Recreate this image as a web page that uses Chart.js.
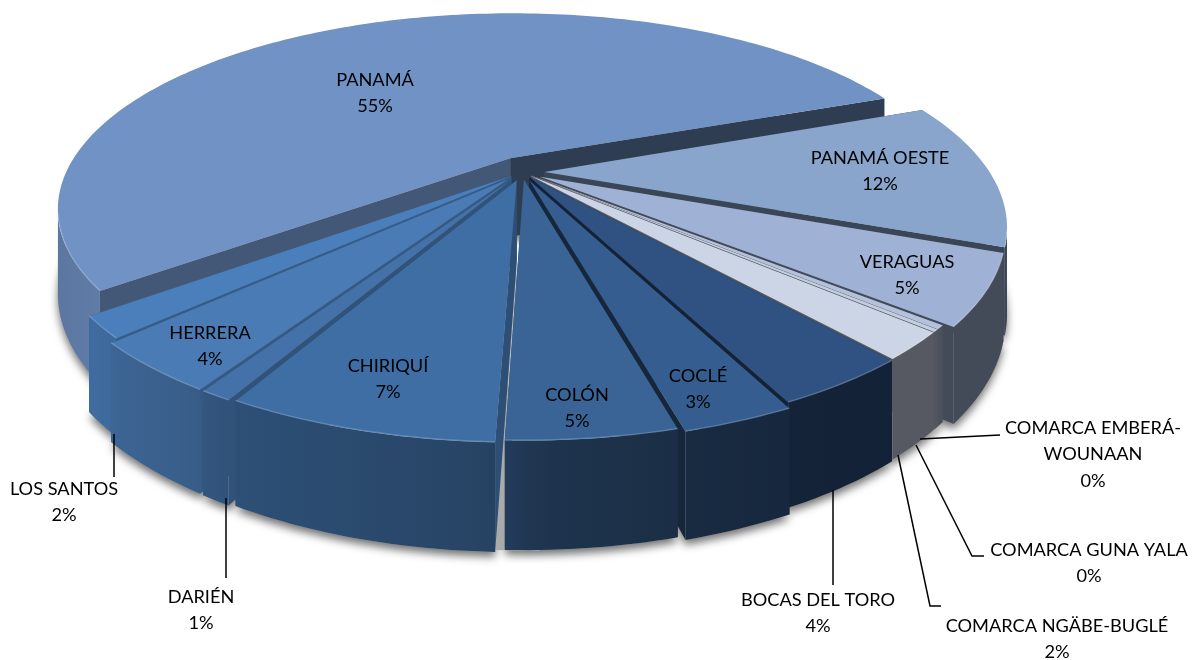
<!DOCTYPE html>
<html><head><meta charset="utf-8">
<style>html,body{margin:0;padding:0;background:#fff}canvas{display:block}</style>
<script src="https://cdn.jsdelivr.net/npm/chart.js@4/dist/chart.umd.min.js"></script>
</head><body><canvas id="c" width="1197" height="660"></canvas>
<script>
const categories=["PANAMÁ","PANAMÁ OESTE","VERAGUAS","COMARCA EMBERÁ-WOUNAAN","COMARCA GUNA YALA","COMARCA NGÄBE-BUGLÉ","BOCAS DEL TORO","COCLÉ","COLÓN","CHIRIQUÍ","DARIÉN","HERRERA","LOS SANTOS"];
const shares=[54.6,11.7,5.4,0.3,0.2,2.1,3.9,3.1,4.6,7.4,0.9,3.9,1.7];
const colors=["#7092c4","#8aa5cc","#9fb2d5","#b4c1da","#c2cde0","#ccd5e6","#2f5282","#355d8f","#3a6496","#3f6ea4","#4472a8","#4a7bb5","#4a7fbc"];
const explode=[27,16,15,9,9,9,10,15,12,14,15,15,10];

const view={cx:522,cy:172,a:445,b:189,k:0.26,H:80,leadNudge:0.015};
const shadeStops=[[60,.42],[150,.42],[165,.46],[178,.52],[183,.62],[208,.72],[213,.76],[231,.85],[260,.8],[300,.8]];
const labelLayout=[
 {lines:["PANAMÁ"],x:375,y:80},{lines:["PANAMÁ OESTE"],x:880,y:158},{lines:["VERAGUAS"],x:907,y:262},
 {lines:["COMARCA EMBERÁ-","WOUNAAN"],x:1093,y:428},{lines:["COMARCA GUNA YALA"],x:1089,y:550},
 {lines:["COMARCA NGÄBE-BUGLÉ"],x:1057,y:626},{lines:["BOCAS DEL TORO"],x:818,y:600},
 {lines:["COCLÉ"],x:698,y:376},{lines:["COLÓN"],x:577,y:395},{lines:["CHIRIQUÍ"],x:388,y:366},
 {lines:["DARIÉN"],x:201,y:597},{lines:["HERRERA"],x:210,y:333},{lines:["LOS SANTOS"],x:64,y:489}];
const leaders=[[[114,434],[114,477]],[[226,498],[226,578]],[[833,490],[833,585]],
 [[898,455],[930,606],[941,606]],[[916,445],[972,556],[984,556]],[[920,439],[1000,435]]];

function shadeAt(t){t=((t%360)+360)%360;
 if(t<=shadeStops[0][0])return shadeStops[0][1];
 for(let i=1;i<shadeStops.length;i++){if(t<=shadeStops[i][0]){const p=shadeStops[i-1],q=shadeStops[i];return p[1]+(q[1]-p[1])*(t-p[0])/(q[0]-p[0]);}}
 return .8;}
function mul(hex,f){const n=parseInt(hex.slice(1),16);return `rgb(${Math.round((n>>16)*f)},${Math.round(((n>>8)&255)*f)},${Math.round((n&255)*f)})`;}
function proj(u,v,h){const w=1-view.k*v;return [view.cx+view.a*u/w,view.cy+(view.b*v+h*view.H)/w];}
function poly(ctx,pts){ctx.beginPath();pts.forEach((p,i)=>i?ctx.lineTo(p[0],p[1]):ctx.moveTo(p[0],p[1]));ctx.closePath();}

const pie3d={id:'pie3d',
 beforeDatasetDraw(chart){
  const ctx=chart.ctx,meta=chart.getDatasetMeta(0);
  const slices=meta.data.map((el,i)=>{
   const mid=(el.startAngle+el.endAngle)/2,off=el.options.offset/el.outerRadius;
   const ou=Math.cos(mid)*off+(i===0?view.leadNudge:0),ov=Math.sin(mid)*off,rim=[],n=Math.max(3,Math.ceil((el.endAngle-el.startAngle)/0.02));
   for(let j=0;j<=n;j++){const a=el.startAngle+(el.endAngle-el.startAngle)*j/n;rim.push({a,u:ou+Math.cos(a),v:ov+Math.sin(a)});}
   return {i,mid,ou,ov,rim,color:el.options.backgroundColor,start:el.startAngle,end:el.endAngle};
  });
  const deg=a=>(a+Math.PI/2)*180/Math.PI;
  const order=slices.slice().sort((p,q)=>(p.i===0?-9:Math.sin(p.mid))-(q.i===0?-9:Math.sin(q.mid)));
  ctx.save();
  // floor shadows
  order.forEach(s=>{
   const pts=[proj(s.ou,s.ov,1)].concat(s.rim.map(r=>proj(r.u,r.v,1)));
   ctx.save();ctx.shadowColor='rgba(0,0,0,.55)';ctx.shadowBlur=9;ctx.shadowOffsetY=5;ctx.fillStyle='#aaaaaa';poly(ctx,pts);ctx.fill();ctx.restore();
  });
  // grey floor seen through the gap in front of COLÓN
  const gap=slices[8].end,d=0.06,fl=[];
  [[.55,-d],[1.04,-d],[1.04,d],[.55,d]].forEach(([r,e])=>fl.push(proj(r*Math.cos(gap+e),r*Math.sin(gap+e),1)));
  ctx.fillStyle='#aaaaaa';poly(ctx,fl);ctx.fill();
  order.forEach(s=>{
   // radial walls
   [[s.rim[0],s.start],[s.rim[s.rim.length-1],s.end]].forEach(([r,a],idx)=>{
    const t=((deg(a)%360)+360)%360;
    let f=t>180?.72:.42; if(s.i===0&&idx===0)f=.6;
    const q=[proj(s.ou,s.ov,0),proj(r.u,r.v,0),proj(r.u,r.v,1),proj(s.ou,s.ov,1)];
    ctx.fillStyle=mul(s.color,f);poly(ctx,q);ctx.fill();
   });
   // outer wall, visible part only
   const vis=s.rim.filter((r,j)=>{const nb=s.rim[Math.min(j+1,s.rim.length-1)],pv=s.rim[Math.max(j-1,0)];return proj(nb.u,nb.v,0)[0]<proj(pv.u,pv.v,0)[0];});
   if(vis.length>1){
    const top=vis.map(r=>proj(r.u,r.v,0)),bot=vis.map(r=>proj(r.u,r.v,1)).reverse();
    const x0=top[0][0],x1=top[top.length-1][0];
    const g=ctx.createLinearGradient(x0,0,x1,0),m=8;
    for(let j=0;j<=m;j++){const idx=Math.round((vis.length-1)*j/m);
     const st=Math.min(1,Math.max(0,(top[idx][0]-x0)/(x1-x0)));
     g.addColorStop(st,mul(s.color,shadeAt(deg(vis[idx].a))));}
    ctx.fillStyle=g;poly(ctx,top.concat(bot));ctx.fill();
   }
   // top face
   const face=[proj(s.ou,s.ov,0)].concat(s.rim.map(r=>proj(r.u,r.v,0)));
   ctx.fillStyle=s.color;poly(ctx,face);ctx.fill();
   // bevel highlight
   if(vis.length>1){ctx.beginPath();vis.forEach((r,j)=>{const p=proj(r.u,r.v,0);j?ctx.lineTo(p[0],p[1]-.5):ctx.moveTo(p[0],p[1]-.5);});
    ctx.strokeStyle='rgba(255,255,255,.18)';ctx.lineWidth=1.5;ctx.stroke();}
  });
  ctx.restore();
  return false;
 },
 afterDraw(chart){
  const ctx=chart.ctx,vals=chart.data.datasets[0].data,total=vals.reduce((p,q)=>p+q,0);
  ctx.save();ctx.strokeStyle='#000';ctx.lineWidth=1.5;
  leaders.forEach(l=>{ctx.beginPath();l.forEach((p,i)=>i?ctx.lineTo(p[0],p[1]):ctx.moveTo(p[0],p[1]));ctx.stroke();});
  ctx.fillStyle='#000';ctx.font='18.2px Lato';ctx.textAlign='center';ctx.textBaseline='middle';
  labelLayout.forEach((l,i)=>{const t=l.lines.concat([Math.round(vals[i]/total*100)+'%']);
   t.forEach((s,j)=>ctx.fillText(s,l.x,l.y+j*26.5));});
  ctx.restore();
 }};

new Chart(document.getElementById('c').getContext('2d'),{type:'pie',
 data:{labels:categories,datasets:[{data:shares,backgroundColor:colors,offset:explode,borderWidth:0}]},
 options:{responsive:false,animation:false,rotation:232,layout:{padding:0},
  plugins:{legend:{display:false},tooltip:{enabled:false}}},
 plugins:[pie3d]});
</script></body></html>
